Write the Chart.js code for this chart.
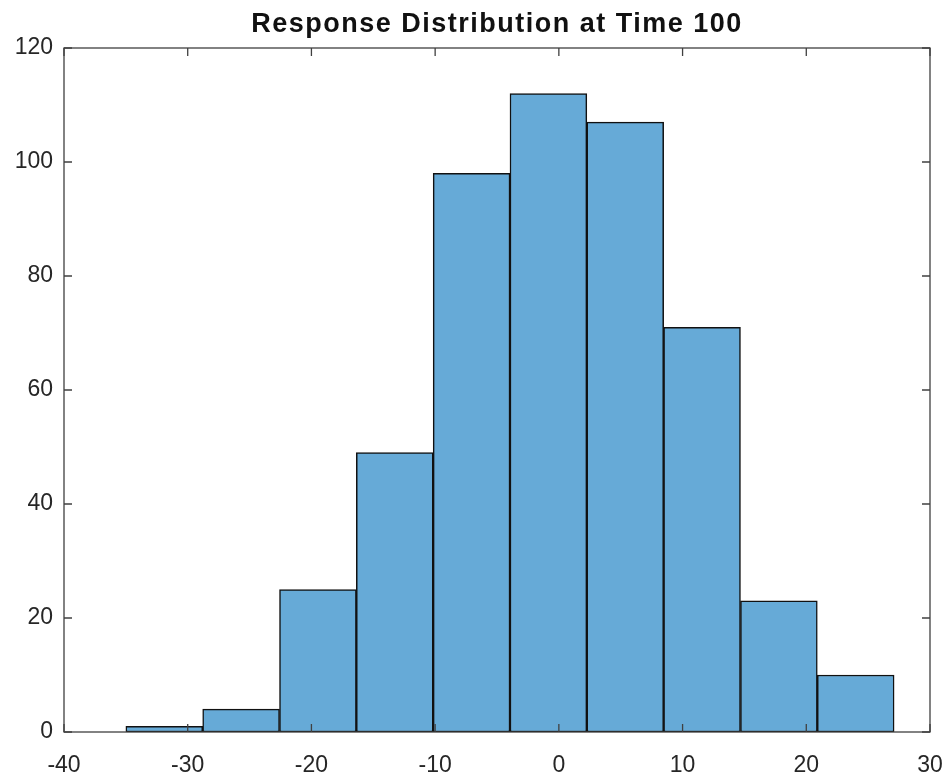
<!DOCTYPE html>
<html>
<head>
<meta charset="utf-8">
<script src="https://cdn.jsdelivr.net/npm/chart.js@4"></script>
<style>
  html, body { margin: 0; padding: 0; background: #fff; }
  #wrap { width: 948px; height: 776px; }
</style>
</head>
<body>
<div id="wrap"><canvas id="myChart"></canvas></div>
<script>
// histogram data
const binEdges = [-35, -28.79, -22.58, -16.37, -10.16, -3.95, 2.26, 8.47, 14.68, 20.89, 27.1];
const counts = [1, 4, 25, 49, 98, 112, 107, 71, 23, 10];
const xTicks = [-40, -30, -20, -10, 0, 10, 20, 30];
const yTicks = [0, 20, 40, 60, 80, 100, 120];
const chartTitle = 'Response Distribution at Time 100';

const axisColor = '#404040';
const labelColor = '#262626';

const points = counts.map((c, i) => ({ x: (binEdges[i] + binEdges[i + 1]) / 2, y: c }));

// box round the plot, inward ticks and the title
const matlabAxes = {
  id: 'matlabAxes',
  afterDraw(chart) {
    const ctx = chart.ctx;
    const a = chart.chartArea;
    const xs = chart.scales.x, ys = chart.scales.y;
    ctx.save();
    ctx.strokeStyle = axisColor;
    ctx.lineWidth = 1.3;
    ctx.strokeRect(a.left, a.top, a.right - a.left, a.bottom - a.top);
    const tl = 8;
    ctx.beginPath();
    xTicks.forEach(v => {
      const px = xs.getPixelForValue(v);
      ctx.moveTo(px, a.bottom); ctx.lineTo(px, a.bottom - tl);
      ctx.moveTo(px, a.top); ctx.lineTo(px, a.top + tl);
    });
    yTicks.forEach(v => {
      const py = ys.getPixelForValue(v);
      ctx.moveTo(a.left, py); ctx.lineTo(a.left + tl, py);
      ctx.moveTo(a.right, py); ctx.lineTo(a.right - tl, py);
    });
    ctx.stroke();
    ctx.fillStyle = '#111';
    ctx.font = 'bold 27px "Liberation Sans", Arial, sans-serif';
    ctx.letterSpacing = '1.5px';
    ctx.textAlign = 'center';
    ctx.textBaseline = 'alphabetic';
    ctx.fillText(chartTitle, (a.left + a.right) / 2, 32);
    ctx.restore();
  }
};

const data = {
  datasets: [{
    label: 'counts',
    data: points,
    backgroundColor: 'rgb(102,170,215)',
    borderColor: '#111',
    borderWidth: 1.5,
    borderSkipped: false,
    barPercentage: 1,
    categoryPercentage: 1,
    grouped: false
  }]
};

const tickFont = { family: '"Liberation Sans", Arial, sans-serif', size: 23 };

const config = {
  type: 'bar',
  data: data,
  options: {
    responsive: true,
    maintainAspectRatio: false,
    animation: false,
    layout: { padding: { top: 48, right: 18, left: 0, bottom: 0 } },
    plugins: {
      legend: { display: false },
      title: { display: false },
      tooltip: { enabled: false }
    },
    scales: {
      x: {
        type: 'linear',
        offset: false,
        min: -40,
        max: 30,
        afterBuildTicks: s => { s.ticks = xTicks.map(v => ({ value: v })); },
        afterFit: s => { s.height = 44; s.paddingLeft = 0; s.paddingRight = 0; },
        grid: { display: false, drawTicks: false, offset: false },
        border: { display: false },
        ticks: { color: labelColor, font: tickFont, padding: 20, maxRotation: 0 }
      },
      y: {
        min: 0,
        max: 120,
        afterBuildTicks: s => { s.ticks = yTicks.map(v => ({ value: v })); },
        afterFit: s => { s.width = 64; s.paddingTop = 0; s.paddingBottom = 0; },
        grid: { display: false, drawTicks: false },
        border: { display: false },
        ticks: { color: labelColor, font: tickFont, padding: 11 }
      }
    }
  },
  plugins: [matlabAxes]
};

var myChart = new Chart(document.getElementById('myChart'), config);
</script>
</body>
</html>
